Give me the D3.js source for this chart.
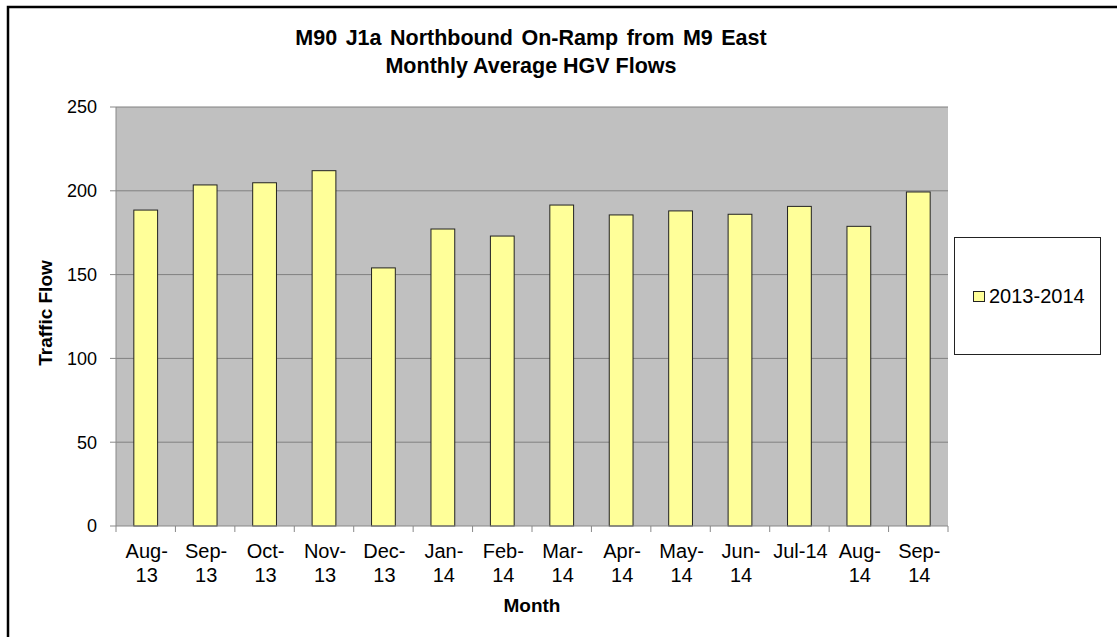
<!doctype html>
<html>
<head>
<meta charset="utf-8">
<style>
  body { margin: 0; background: #fff; }
  text { font-family: "Liberation Sans", Arial, sans-serif; fill: #000; }
</style>
<script src="https://cdn.jsdelivr.net/npm/d3@7"></script>
</head>
<body>
<svg width="1117" height="637" id="chart"></svg>
<script>
// data
var months = ["Aug-13", "Sep-13", "Oct-13", "Nov-13", "Dec-13", "Jan-14", "Feb-14",
              "Mar-14", "Apr-14", "May-14", "Jun-14", "Jul-14", "Aug-14", "Sep-14"];
var flows = [188.5, 203.5, 204.8, 212, 154, 177.2, 173, 191.5, 185.6, 188, 186, 190.7, 178.8, 199.3];
var tickLabels = [["Aug-", "13"], ["Sep-", "13"], ["Oct-", "13"], ["Nov-", "13"], ["Dec-", "13"],
                  ["Jan-", "14"], ["Feb-", "14"], ["Mar-", "14"], ["Apr-", "14"], ["May-", "14"],
                  ["Jun-", "14"], ["Jul-14"], ["Aug-", "14"], ["Sep-", "14"]];
var yTicks = [0, 50, 100, 150, 200, 250];
var seriesName = "2013-2014";

var svg = d3.select("#chart");

var plotL = 116, plotR = 948, plotT = 107, plotB = 526;

// outer chart border (runs off the right and bottom edge)
svg.append("rect")
   .attr("x", 8).attr("y", 7)
   .attr("width", 1200).attr("height", 700)
   .attr("fill", "none")
   .attr("stroke", "#000")
   .attr("stroke-width", 2.5);

var x = d3.scaleBand().domain(months).range([plotL, plotR])
          .paddingInner(0.6).paddingOuter(0.3);
var y = d3.scaleLinear().domain([0, 250]).range([plotB, plotT]);

// plot area
svg.append("rect")
   .attr("x", plotL).attr("y", plotT)
   .attr("width", plotR - plotL).attr("height", plotB - plotT)
   .attr("fill", "#c0c0c0");

// gridlines
svg.append("g").selectAll("line")
   .data(yTicks.slice(1))
   .enter().append("line")
   .attr("x1", plotL).attr("x2", plotR)
   .attr("y1", function(d) { return y(d); })
   .attr("y2", function(d) { return y(d); })
   .attr("stroke", "#808080")
   .attr("stroke-width", 1);

// bars
svg.append("g").selectAll("rect")
   .data(flows)
   .enter().append("rect")
   .attr("x", function(d, i) { return x(months[i]); })
   .attr("y", function(d) { return y(d); })
   .attr("width", x.bandwidth())
   .attr("height", function(d) { return y(0) - y(d); })
   .attr("fill", "#ffff99")
   .attr("stroke", "#222")
   .attr("stroke-width", 1);

// y axis
var yAxis = svg.append("g");
yAxis.append("line")
     .attr("x1", plotL).attr("x2", plotL)
     .attr("y1", plotT).attr("y2", plotB)
     .attr("stroke", "#888");
yAxis.selectAll(".yt").data(yTicks).enter().append("line")
     .attr("x1", plotL - 6).attr("x2", plotL)
     .attr("y1", function(d) { return y(d); })
     .attr("y2", function(d) { return y(d); })
     .attr("stroke", "#888");
yAxis.selectAll("text").data(yTicks).enter().append("text")
     .attr("x", 97)
     .attr("y", function(d) { return y(d); })
     .attr("dy", "0.36em")
     .attr("text-anchor", "end")
     .attr("font-size", "18px")
     .attr("fill", "#222")
     .text(function(d) { return d; });

// x axis
var step = x.step();
var bounds = d3.range(months.length + 1).map(function(i) {
  return i < months.length ? x(months[i]) + x.bandwidth() / 2 - step / 2
                           : x(months[i - 1]) + x.bandwidth() / 2 + step / 2;
});
var xAxis = svg.append("g");
xAxis.append("line")
     .attr("x1", plotL).attr("x2", plotR)
     .attr("y1", plotB).attr("y2", plotB)
     .attr("stroke", "#888");
xAxis.selectAll(".xt").data(bounds).enter().append("line")
     .attr("x1", function(d) { return d; })
     .attr("x2", function(d) { return d; })
     .attr("y1", plotB).attr("y2", plotB + 6)
     .attr("stroke", "#888");
xAxis.selectAll("text").data(months).enter().append("text")
     .attr("text-anchor", "middle")
     .attr("font-size", "20px")
     .attr("x", function(d) { return x(d) + x.bandwidth() / 2 + 1; })
     .attr("y", 558)
     .each(function(d, i) {
       var t = d3.select(this);
       tickLabels[i].forEach(function(line, j) {
         t.append("tspan")
          .attr("x", x(d) + x.bandwidth() / 2 + 1)
          .attr("dy", j === 0 ? 0 : 24)
          .text(line);
       });
     });

// titles
svg.append("text")
   .attr("x", 531).attr("y", 45)
   .attr("text-anchor", "middle")
   .attr("font-size", "21.5px").attr("font-weight", "bold")
   .attr("word-spacing", "2.5px")
   .text("M90 J1a Northbound On-Ramp from M9 East");
svg.append("text")
   .attr("x", 531).attr("y", 73)
   .attr("text-anchor", "middle")
   .attr("font-size", "21.5px").attr("font-weight", "bold")
   .text("Monthly Average HGV Flows");

svg.append("text")
   .attr("transform", "translate(52,313) rotate(-90)")
   .attr("text-anchor", "middle")
   .attr("font-size", "19px").attr("font-weight", "bold")
   .text("Traffic Flow");

svg.append("text")
   .attr("x", 532).attr("y", 612)
   .attr("text-anchor", "middle")
   .attr("font-size", "19px").attr("font-weight", "bold")
   .text("Month");

// legend
var lg = svg.append("g");
lg.append("rect")
  .attr("x", 954.5).attr("y", 237.5)
  .attr("width", 146).attr("height", 117)
  .attr("fill", "#fff")
  .attr("stroke", "#222");
lg.append("rect")
  .attr("x", 973.5).attr("y", 291.5)
  .attr("width", 11).attr("height", 10)
  .attr("fill", "#ffff99")
  .attr("stroke", "#222");
lg.append("text")
  .attr("x", 989).attr("y", 303)
  .attr("font-size", "20px")
  .text(seriesName);
</script>
</body>
</html>
